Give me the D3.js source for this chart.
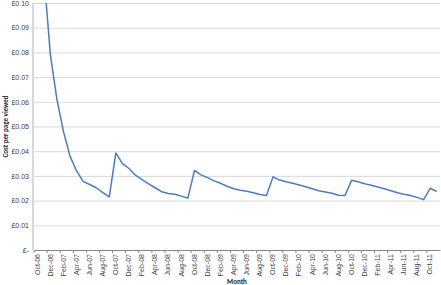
<!DOCTYPE html>
<html>
<head>
<meta charset="utf-8">
<script src="https://cdn.jsdelivr.net/npm/d3@7"></script>
<style>
  body { margin: 0; background: #fff; }
  svg { display: block; font-family: Carlito, "Liberation Sans Narrow", "Liberation Sans", sans-serif; }
  .grid line { stroke: #d9d9d9; stroke-width: 1; }
  .grid path { display: none; }
  .tick text { fill: #404040; }
</style>
</head>
<body>
<div id="chart"></div>
<script>
const years = ['06', '07', '08', '09', '10', '11'];
const monthNames = ['Jan', 'Feb', 'Mar', 'Apr', 'May', 'Jun', 'Jul', 'Aug', 'Sep', 'Oct', 'Nov', 'Dec'];

// Oct-06 .. Nov-11
const months = [];
years.forEach((yy, yi) => {
  monthNames.forEach((m, mi) => {
    if (yi === 0 && mi < 9) return;
    if (yi === years.length - 1 && mi > 10) return;
    months.push(m + '-' + yy);
  });
});

const cost = [
  0.160, 0.112, 0.079, 0.061, 0.048, 0.038, 0.032, 0.0278, 0.0265, 0.0252, 0.0232, 0.0215,
  0.0393, 0.035, 0.033, 0.0303, 0.0285, 0.0268, 0.0252, 0.0236, 0.0229, 0.0226, 0.0218, 0.021,
  0.0322, 0.0304, 0.0293, 0.028, 0.027, 0.0258, 0.0248, 0.0242, 0.0238, 0.0232, 0.0225, 0.0221,
  0.0296, 0.0283, 0.0276, 0.027, 0.0263, 0.0256, 0.0248, 0.024, 0.0235, 0.023, 0.0222, 0.0221,
  0.0282, 0.0276, 0.0268, 0.0262, 0.0255, 0.0248, 0.024, 0.0232, 0.0226, 0.0221, 0.0213, 0.0204,
  0.025, 0.0237
];

const yTicks = [0, 0.01, 0.02, 0.03, 0.04, 0.05, 0.06, 0.07, 0.08, 0.09, 0.10];

const width = 441, height = 285;
const margin = { top: 3, right: 1, bottom: 35, left: 34 };

const svg = d3.select('#chart')
  .append('svg')
  .attr('width', width)
  .attr('height', height);

const x = d3.scaleBand()
  .domain(months)
  .range([margin.left, width - margin.right]);

const y = d3.scaleLinear()
  .domain([0, 0.10])
  .range([height - margin.bottom, margin.top]);

// gridlines
svg.append('g')
  .attr('class', 'grid')
  .attr('transform', `translate(${margin.left},0)`)
  .call(d3.axisLeft(y)
    .tickValues(yTicks.slice(1))
    .tickSize(-(width - margin.left - margin.right))
    .tickFormat(() => ''));

// y labels
const yAxis = svg.append('g')
  .attr('transform', `translate(${margin.left},0)`)
  .call(d3.axisLeft(y)
    .tickValues(yTicks)
    .tickSize(0)
    .tickPadding(5)
    .tickFormat(d => d === 0 ? '£-' : '£' + d.toFixed(2)));
yAxis.select('.domain').remove();
yAxis.selectAll('text').attr('font-size', 7);

// y axis line
svg.append('line')
  .attr('x1', margin.left - 1).attr('x2', margin.left - 1)
  .attr('y1', y(0.10)).attr('y2', y(0))
  .attr('stroke', '#d9d9d9').attr('stroke-width', 2);

// x axis
const labelMonths = months.filter((d, i) => i % 2 === 0);
const xAxis = svg.append('g')
  .attr('transform', `translate(0,${y(0)})`)
  .call(d3.axisBottom(x)
    .tickValues(labelMonths)
    .tickSize(0)
    .tickPadding(4));
xAxis.select('.domain').attr('stroke', '#868686');
xAxis.selectAll('text')
  .attr('font-size', 7)
  .attr('transform', 'rotate(-90)')
  .attr('text-anchor', 'end')
  .attr('dx', '-4')
  .attr('dy', '0.32em')
  .attr('y', 0)
  .attr('x', 0);
xAxis.selectAll('.tick')
  .attr('transform', d => `translate(${x(d) + x.bandwidth() / 2},0)`);

// tick marks between categories
svg.append('g')
  .selectAll('line')
  .data(labelMonths)
  .join('line')
  .attr('x1', d => x(d)).attr('x2', d => x(d))
  .attr('y1', y(0)).attr('y2', y(0) + 3)
  .attr('stroke', '#868686');

// clip
svg.append('clipPath').attr('id', 'plot')
  .append('rect')
  .attr('x', margin.left).attr('y', y(0.10))
  .attr('width', width - margin.left - margin.right)
  .attr('height', y(0) - y(0.10));

const line = d3.line()
  .x((d, i) => x(months[i]) + x.bandwidth() / 2)
  .y(d => y(d));

svg.append('path')
  .datum(cost)
  .attr('clip-path', 'url(#plot)')
  .attr('fill', 'none')
  .attr('stroke', '#4a7ebb')
  .attr('stroke-width', 1.5)
  .attr('stroke-linejoin', 'round')
  .attr('d', line);

// axis titles
svg.append('text')
  .attr('transform', `translate(8,${(y(0) + y(0.10)) / 2}) rotate(-90)`)
  .attr('text-anchor', 'middle')
  .attr('font-size', 7)
  .attr('font-weight', 'bold')
  .attr('fill', '#262626')
  .text('Cost per page viewed');

svg.append('text')
  .attr('x', (margin.left + width - margin.right) / 2)
  .attr('y', 284)
  .attr('text-anchor', 'middle')
  .attr('font-size', 7)
  .attr('font-weight', 'bold')
  .attr('fill', '#262626')
  .text('Month');
</script>
</body>
</html>
